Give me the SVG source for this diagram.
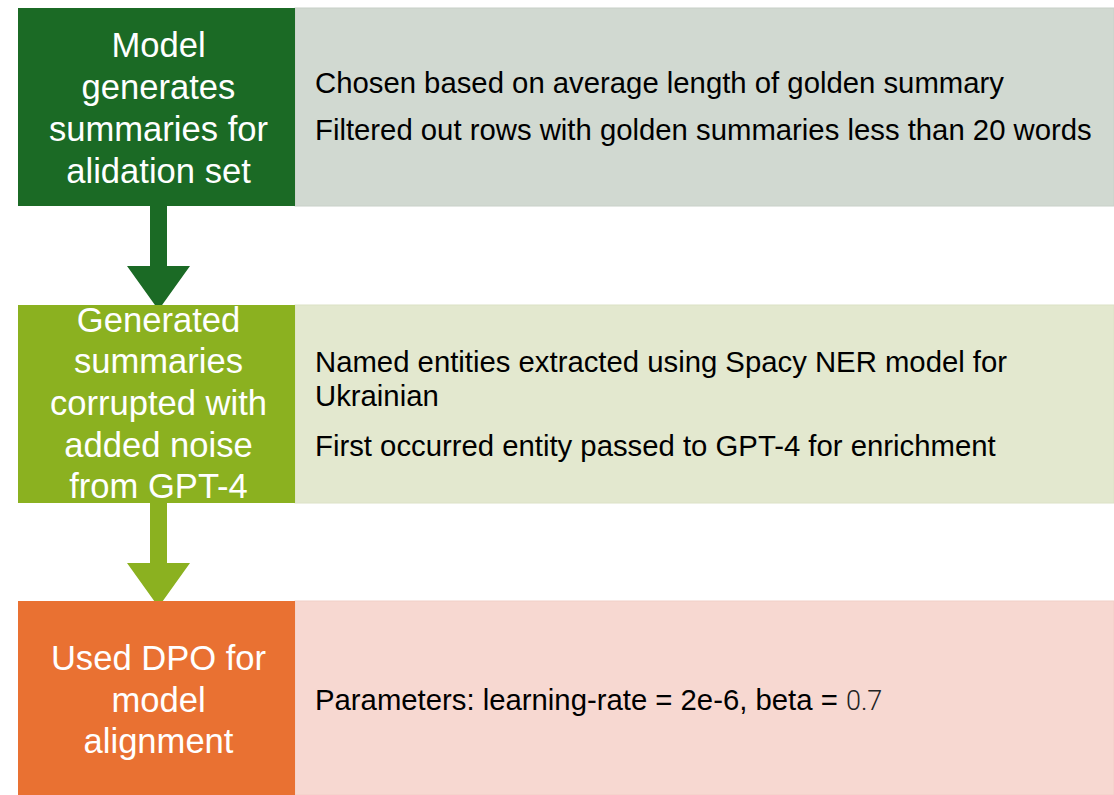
<svg xmlns="http://www.w3.org/2000/svg" width="1114" height="795" viewBox="0 0 1114 795">
<style>
.lt{font-family:"Liberation Sans",Arial,sans-serif;font-size:34.6px;fill:#ffffff;text-anchor:middle}
.rt{font-family:"Liberation Sans",Arial,sans-serif;font-size:29.3px;fill:#000000}
.lite{font-family:Roboto,"Liberation Sans",sans-serif;font-weight:300;font-size:27px;fill:#222222}
</style>
<rect width="1114" height="795" fill="#ffffff"/>
<g id="connectors">
<polygon points="150,206 167,206 167,266 190,266 158.5,310 127,266 150,266" fill="#1B6A25"/>
<polygon points="150,503 167,503 167,563 190,563 158.5,607 127,563 150,563" fill="#8BB120"/>
</g>
<g id="panel1">
<rect x="295" y="8" width="819" height="198" fill="#D1D9D1" stroke="#C8D0C8" stroke-width="1"/>
<text class="rt" x="315" y="93">Chosen based on average length of golden summary</text>
<text class="rt" x="315" y="140">Filtered out rows with golden summaries less than 20 words</text>
</g>
<g id="node1">
<rect x="18" y="8" width="277" height="198" fill="#1B6A25"/>
<text class="lt" x="158.5" y="57">Model</text>
<text class="lt" x="158.5" y="99">generates</text>
<text class="lt" x="158.5" y="141">summaries for</text>
<text class="lt" x="158.5" y="183">alidation set</text>
</g>
<g id="panel2">
<rect x="295" y="305" width="819" height="198" fill="#E3E8CF" stroke="#DCE2C6" stroke-width="1"/>
<text class="rt" x="315" y="372">Named entities extracted using Spacy NER model for</text>
<text class="rt" x="315" y="406">Ukrainian</text>
<text class="rt" x="315" y="456">First occurred entity passed to GPT-4 for enrichment</text>
</g>
<g id="node2">
<rect x="18" y="305" width="277" height="198" fill="#8BB120"/>
<text class="lt" x="158.5" y="332">Generated</text>
<text class="lt" x="158.5" y="373">summaries</text>
<text class="lt" x="158.5" y="415">corrupted with</text>
<text class="lt" x="158.5" y="457">added noise</text>
<text class="lt" x="158.5" y="498">from GPT-4</text>
</g>
<g id="panel3">
<rect x="295" y="601" width="819" height="194" fill="#F7D8D1" stroke="#F2CFC7" stroke-width="1"/>
<text class="rt" x="315" y="710">Parameters: learning-rate = 2e-6, beta = <tspan class="lite">0.7</tspan></text>
</g>
<g id="node3">
<rect x="18" y="601" width="277" height="194" fill="#E97132"/>
<text class="lt" x="158.5" y="670">Used DPO for</text>
<text class="lt" x="158.5" y="712">model</text>
<text class="lt" x="158.5" y="753">alignment</text>
</g>
</svg>
